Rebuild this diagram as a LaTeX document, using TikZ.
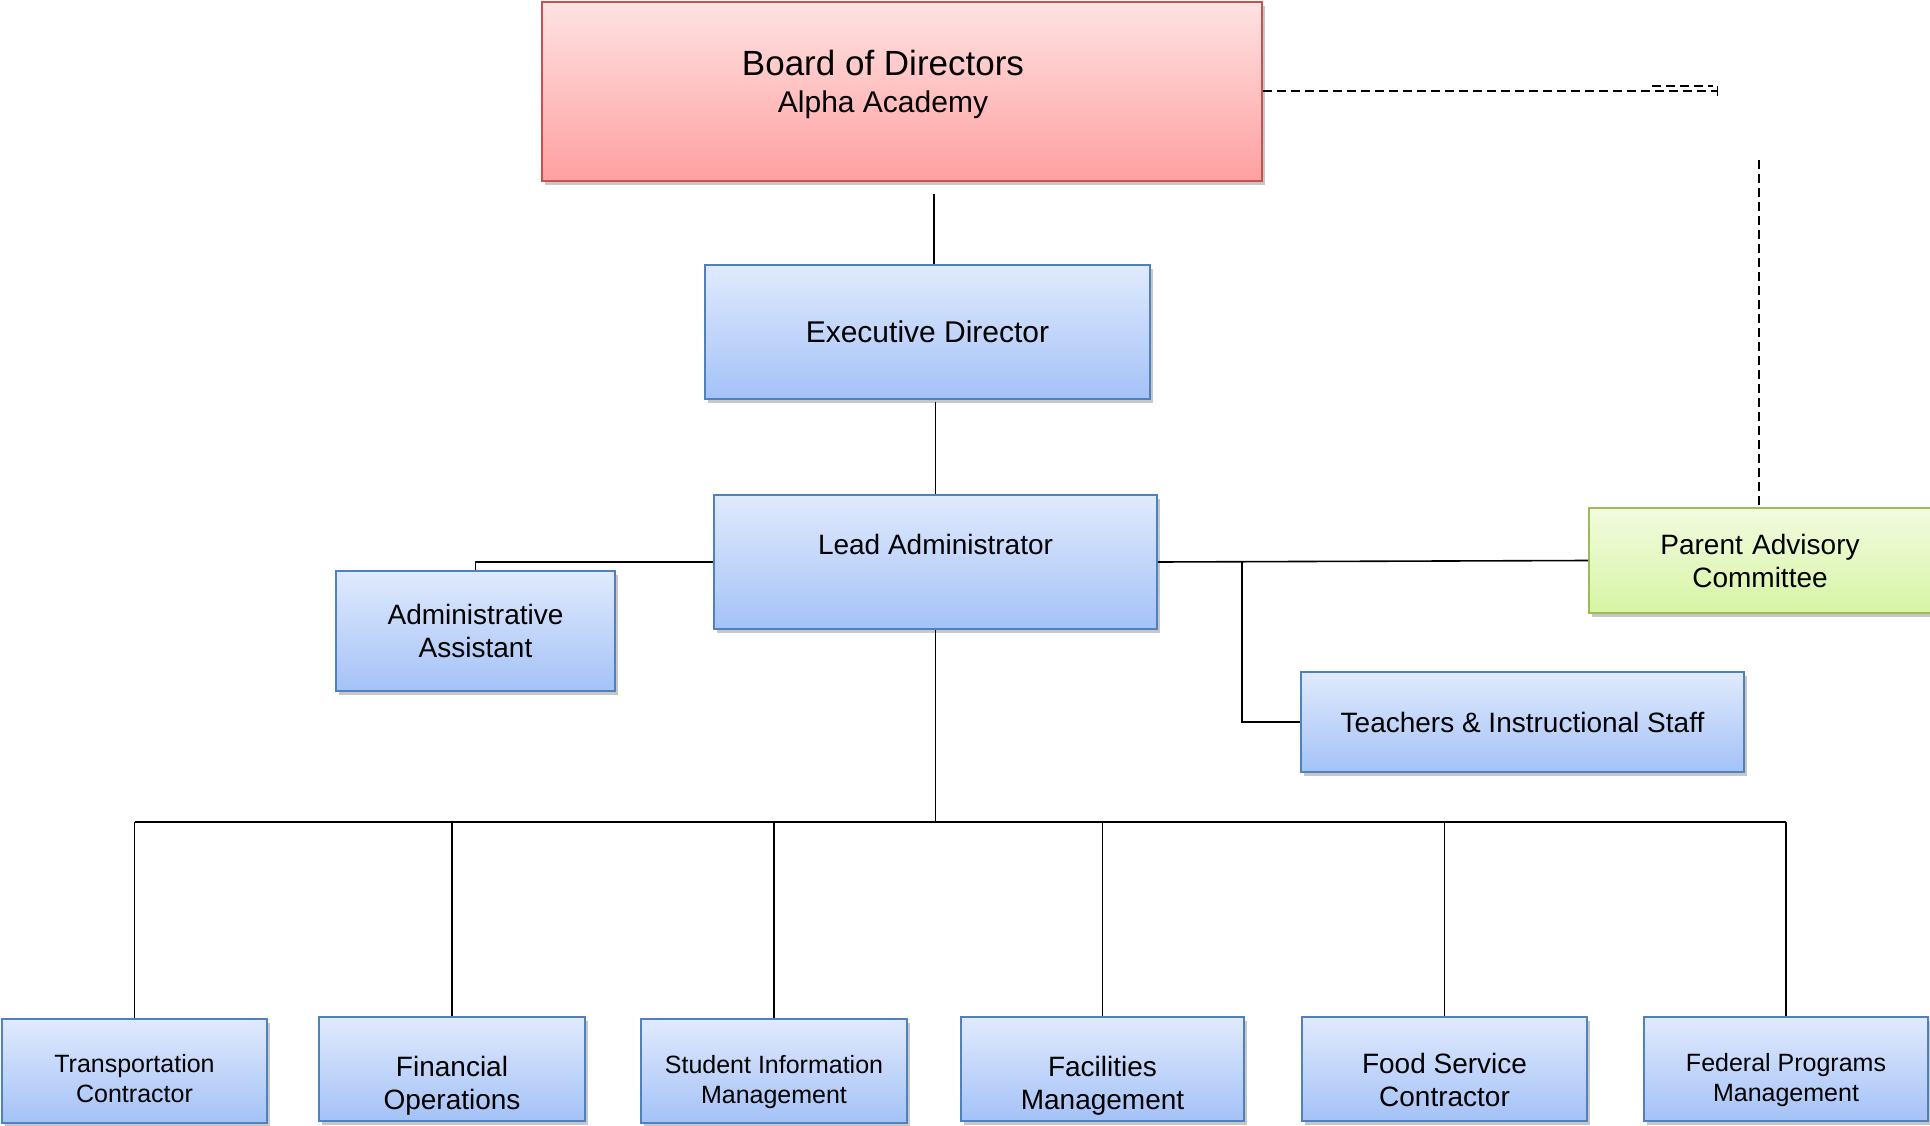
\documentclass[tikz,border=0pt]{standalone}
\usepackage{fontspec}
\setmainfont{Liberation Sans}
\usetikzlibrary{shadows}
\definecolor{bluetop}{RGB}{224,234,253}
\definecolor{bluebot}{RGB}{164,194,247}
\definecolor{blueline}{RGB}{79,129,189}
\definecolor{redtop}{RGB}{255,226,226}
\definecolor{redbot}{RGB}{255,160,160}
\definecolor{redline}{RGB}{200,80,77}
\definecolor{greentop}{RGB}{242,251,224}
\definecolor{greenbot}{RGB}{214,245,164}
\definecolor{greenline}{RGB}{155,187,89}
\tikzset{
  boxbase/.style={rectangle, align=center, inner sep=0pt, line width=1.8pt,
    drop shadow={shadow xshift=3pt, shadow yshift=-4pt, fill=black, opacity=0.22}},
  bluebox/.style={boxbase, draw=blueline, top color=bluetop, bottom color=bluebot},
  redbox/.style={boxbase, draw=redline, top color=redtop, bottom color=redbot},
  greenbox/.style={boxbase, draw=greenline, top color=greentop, bottom color=greenbot},
  midtext/.style={font=\fontsize{28}{33}\selectfont},
  smalltext/.style={font=\fontsize{25}{30}\selectfont},
  bottombox/.style={bluebox, minimum height=104pt},
  conn/.style={line width=1.6pt, black},
  dashconn/.style={line width=1.6pt, black, dash pattern=on 9pt off 5pt},
}
\begin{document}
\begin{tikzpicture}[x=1pt, y=-1pt]
\useasboundingbox (0,0) rectangle (1930,1126);
\fill[white] (0,0) rectangle (1930,1126);

% Main boxes
\node[redbox, minimum width=720pt, minimum height=179pt] (board) at (902,91.5) {};
\node[font=\fontsize{35}{39}\selectfont, align=center] (boardtext) at (883,84)
  {Board of Directors\\[-2pt]{\fontsize{30}{34}\selectfont Alpha Academy}};

\node[bluebox, minimum width=445pt, minimum height=134pt,
  font=\fontsize{30}{34}\selectfont] (exec) at (927.5,332) {Executive Director};

\node[bluebox, minimum width=443pt, minimum height=134pt,
  label={[midtext, yshift=18pt]center:Lead Administrator}] (lead) at (935.5,562) {};

\node[bluebox, midtext, minimum width=279pt, minimum height=120pt] (admin) at (475.5,631)
  {Administrative\\Assistant};

\node[greenbox, midtext, minimum width=346pt, minimum height=105pt, text width=340pt] (parent) at (1762,560.5)
  {\hspace*{-4pt}Parent Advisory\\\hspace*{-4pt}Committee};

\node[bluebox, midtext, minimum width=443pt, minimum height=100pt] (teach) at (1522.5,722)
  {Teachers \& Instructional Staff};

% Bottom row
\node[bottombox, minimum width=265pt,
  label={[smalltext, align=center, yshift=-8pt]center:Transportation\\Contractor}] (trans) at (134.5,1071) {};
\node[bottombox, minimum width=266pt,
  label={[midtext, align=center, yshift=-17pt]center:Financial\\Operations}] (fin) at (452,1069) {};
\node[bottombox, minimum width=266pt,
  label={[smalltext, align=center, yshift=-11pt]center:Student Information\\Management}] (sis) at (774,1071) {};
\node[bottombox, minimum width=283pt,
  label={[midtext, align=center, yshift=-17pt]center:Facilities\\Management}] (fac) at (1102.5,1069) {};
\node[bottombox, minimum width=285pt,
  label={[midtext, align=center, yshift=-11pt]center:Food Service\\Contractor}] (food) at (1444.5,1069) {};
\node[bottombox, minimum width=284pt,
  label={[smalltext, align=center, yshift=-11pt]center:Federal Programs\\Management}] (fed) at (1786,1069) {};

% Connectors
\coordinate (bsrc) at (934,194);
\draw[conn] (bsrc) -- (bsrc |- exec.north);
\coordinate (esrc) at (935.5,402);
\draw[conn] (esrc) -- (lead.north);
\draw[conn] (lead.west) -| (admin.north);
\draw[conn] (lead.east) -- (parent.west);
\coordinate (tbr) at (1242,562);
\draw[conn] (tbr) |- (teach.west);

\coordinate (bus) at (935.5,822);
\draw[conn] (lead.south) -- (bus);
\draw[conn] (trans.north |- bus) -- (fed.north |- bus);
\foreach \n in {trans,fin,sis,fac,food,fed}
  \draw[conn] (\n.north |- bus) -- (\n.north);

% Dashed link board -> parent advisory
\coordinate (dend) at (1717,91);
\draw[dashconn] (board.east |- dend) -- (dend);
\coordinate (dj1) at (1652,86);
\coordinate (dj2) at (1713,86);
\draw[dashconn, line width=1.4pt] (dj1) -- (dj2);
\draw[line width=1pt] (1717,86) -- (1717,96);
\coordinate (dtop) at (1759,160);
\draw[dashconn] (dtop) -- (dtop |- parent.north);
\end{tikzpicture}
\end{document}
